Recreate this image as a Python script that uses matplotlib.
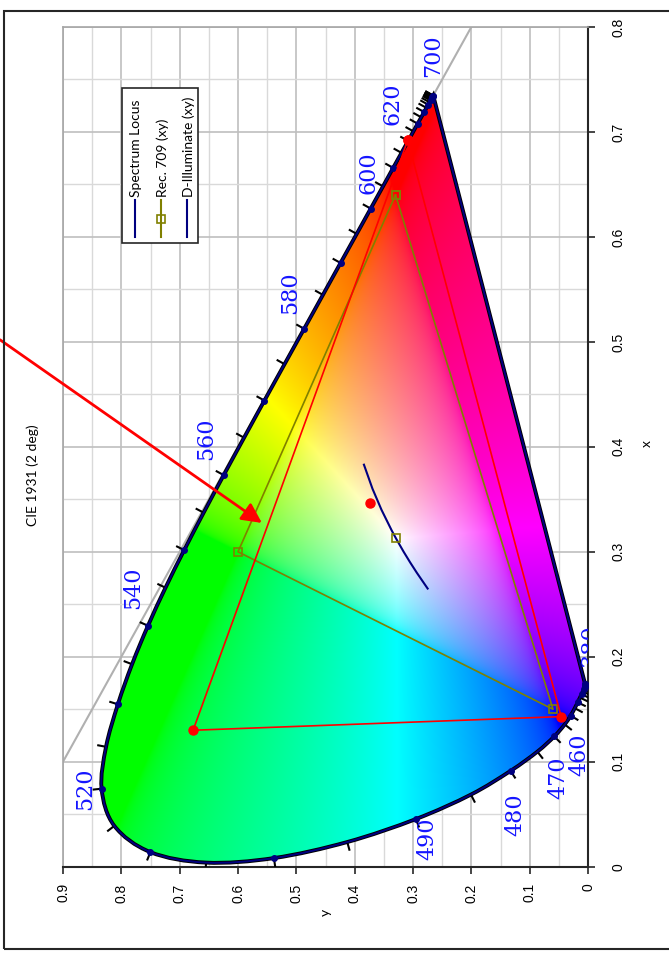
import numpy as np
import matplotlib
matplotlib.use("Agg")
import matplotlib.pyplot as plt
from matplotlib.patches import PathPatch, Rectangle
from matplotlib.path import Path
from matplotlib.lines import Line2D
from matplotlib.ticker import MultipleLocator

# --- CIE 1931 (2 deg) spectrum locus, 5 nm steps ---
wavelengths = list(range(380, 705, 5))
locus_x = [0.1741, 0.1740, 0.1738, 0.1736, 0.1733, 0.1730, 0.1726, 0.1721, 0.1714, 0.1703,
           0.1689, 0.1669, 0.1644, 0.1611, 0.1566, 0.1510, 0.1440, 0.1355, 0.1241, 0.1096,
           0.0913, 0.0687, 0.0454, 0.0235, 0.0082, 0.0039, 0.0139, 0.0389, 0.0743, 0.1142,
           0.1547, 0.1929, 0.2296, 0.2658, 0.3016, 0.3373, 0.3731, 0.4087, 0.4441, 0.4788,
           0.5125, 0.5448, 0.5752, 0.6029, 0.6270, 0.6482, 0.6658, 0.6801, 0.6915, 0.7006,
           0.7079, 0.7140, 0.7190, 0.7230, 0.7260, 0.7283, 0.7300, 0.7311, 0.7320, 0.7327,
           0.7334, 0.7340, 0.7344, 0.7346, 0.7347]
locus_y = [0.0050, 0.0050, 0.0049, 0.0049, 0.0048, 0.0048, 0.0048, 0.0048, 0.0051, 0.0058,
           0.0069, 0.0086, 0.0109, 0.0138, 0.0177, 0.0227, 0.0297, 0.0399, 0.0578, 0.0868,
           0.1327, 0.2007, 0.2950, 0.4127, 0.5384, 0.6548, 0.7502, 0.8120, 0.8338, 0.8262,
           0.8059, 0.7816, 0.7543, 0.7243, 0.6923, 0.6589, 0.6245, 0.5896, 0.5547, 0.5202,
           0.4866, 0.4544, 0.4242, 0.3965, 0.3725, 0.3514, 0.3340, 0.3197, 0.3083, 0.2993,
           0.2920, 0.2859, 0.2809, 0.2770, 0.2740, 0.2717, 0.2700, 0.2689, 0.2680, 0.2673,
           0.2666, 0.2660, 0.2656, 0.2654, 0.2653]

# wavelength labels (nm) and where they sit
label_nm = ["700", "620", "600", "580", "560", "540", "520", "490", "480", "470", "460", "380"]
label_x = [0.773, 0.727, 0.661, 0.547, 0.408, 0.266, 0.074, 0.027, 0.050, 0.085, 0.107, 0.211]
label_y = [0.266, 0.336, 0.377, 0.511, 0.655, 0.780, 0.862, 0.276, 0.125, 0.050, 0.015, -0.004]

# Rec. 709 primaries and white point
rec709_x = [0.64, 0.30, 0.15, 0.64]
rec709_y = [0.33, 0.60, 0.06, 0.33]
rec709_white_x = [0.3127]
rec709_white_y = [0.3290]

# red gamut triangle and its white point
gamut_x = [0.692, 0.130, 0.143, 0.692]
gamut_y = [0.309, 0.677, 0.046, 0.309]
gamut_white_x = [0.3465]
gamut_white_y = [0.374]

# daylight (D) illuminant locus
daylight_x = [0.265, 0.280, 0.290, 0.300, 0.3127, 0.320, 0.340, 0.360, 0.383]
daylight_y = [0.2749, 0.2934, 0.3050, 0.3160, 0.3291, 0.3362, 0.3540, 0.3694, 0.3841]

# x + y = 1 reference line
edge_x = [0.1, 0.8]
edge_y = [0.9, 0.2]

W, H = 669, 959
fig = plt.figure(figsize=(W / 100, H / 100), dpi=100)


def fpos(h, v):
    return h / W, 1 - v / H


def smooth_path(pts, close=False):
    # Catmull-Rom style bezier through the points (like a "smoothed line" series)
    pts = np.asarray(pts, dtype=float)
    n = len(pts)
    verts = [pts[0]]
    codes = [Path.MOVETO]
    for i in range(n - 1):
        p0 = pts[max(i - 1, 0)]
        p1 = pts[i]
        p2 = pts[i + 1]
        p3 = pts[min(i + 2, n - 1)]
        verts += [p1 + (p2 - p0) / 6, p2 - (p3 - p1) / 6, p2]
        codes += [Path.CURVE4] * 3
    if close:
        verts += [pts[0], pts[0]]
        codes += [Path.LINETO, Path.CLOSEPOLY]
    return Path(verts, codes)


# axes box (chart is drawn turned on its side: chromaticity y runs right-to-left,
# chromaticity x runs bottom-to-top)
ax = fig.add_axes([63 / W, 1 - 866.7 / H, (588 - 63) / W, (866.7 - 27) / H])
ax.set_xlim(0.9, 0)
ax.set_ylim(0, 0.8)

ax.xaxis.set_major_locator(MultipleLocator(0.1))
ax.yaxis.set_major_locator(MultipleLocator(0.1))
ax.xaxis.set_minor_locator(MultipleLocator(0.05))
ax.yaxis.set_minor_locator(MultipleLocator(0.05))
ax.grid(which="minor", color="#d9d9d9", lw=1.0, zorder=0)
ax.grid(which="major", color="#bfbfbf", lw=1.2, zorder=0)
ax.set_axisbelow(True)

ax.yaxis.tick_right()
ax.tick_params(which="major", direction="out", length=5, width=1.2, color="#262626",
               labelsize=10, labelfontfamily="Liberation Sans")
ax.tick_params(which="minor", length=0)
ax.tick_params(axis="x", pad=7, labelrotation=90)
ax.tick_params(axis="y", pad=12, labelrotation=90)
ax.set_xticks([0, 0.1, 0.2, 0.3, 0.4, 0.5, 0.6, 0.7, 0.8, 0.9])
ax.set_xticklabels(["0", "0.1", "0.2", "0.3", "0.4", "0.5", "0.6", "0.7", "0.8", "0.9"])
ax.set_yticks([0, 0.1, 0.2, 0.3, 0.4, 0.5, 0.6, 0.7, 0.8])
ax.set_yticklabels(["0", "0.1", "0.2", "0.3", "0.4", "0.5", "0.6", "0.7", "0.8"])
for lbl in ax.get_yticklabels():
    lbl.set_verticalalignment("center")

for side in ("left", "top"):
    ax.spines[side].set_color("#a6a6a6")
    ax.spines[side].set_linewidth(1.2)
for side in ("right", "bottom"):
    ax.spines[side].set_color("#262626")
    ax.spines[side].set_linewidth(1.5)

# x + y = 1
ax.plot(edge_y, edge_x, color="#b0b0b0", lw=1.5, zorder=1)

# --- colour fill of the chromaticity diagram ---
hy = np.linspace(0, 0.9, 700)
vx = np.linspace(0, 0.8, 700)
cy, cx = np.meshgrid(hy, vx)
cy_safe = np.maximum(cy, 1e-4)
XYZ = np.stack([cx / cy_safe, np.ones_like(cx), (1 - cx - cy) / cy_safe], axis=-1)
M = np.array([[3.2406, -1.5372, -0.4986],
              [-0.9689, 1.8758, 0.0415],
              [0.0557, -0.2040, 1.0570]])
rgb = XYZ @ M.T
rgb = np.clip(rgb, 0, None)
rgb /= np.maximum(rgb.max(axis=-1, keepdims=True), 1e-9)
rgb = np.where(rgb <= 0.0031308, 12.92 * rgb, 1.055 * np.power(rgb, 1 / 2.4) - 0.055)
rgb = np.clip(rgb, 0, 1)

locus_pts = np.column_stack([locus_y, locus_x])
outline = PathPatch(smooth_path(locus_pts, close=True), facecolor="none",
                    edgecolor="none")
ax.add_patch(outline)
img = ax.imshow(rgb, extent=(0, 0.9, 0, 0.8), origin="lower", aspect="auto",
                interpolation="bilinear", zorder=2)
img.set_clip_path(outline)
ax.set_xlim(0.9, 0)
ax.set_ylim(0, 0.8)

# locus outline: black under navy
ax.add_patch(PathPatch(smooth_path(locus_pts, close=True), facecolor="none",
                       edgecolor="black", lw=2.8, zorder=4))
ax.add_patch(PathPatch(smooth_path(locus_pts, close=True), facecolor="none",
                       edgecolor="#000080", lw=1.4, zorder=5))

# wavelength ticks every 5 nm, pointing outwards
trans = ax.transData
pts = trans.transform(locus_pts)
center = trans.transform([[0.33, 0.33]])[0]
inv = trans.inverted()
for i in range(len(pts)):
    a = pts[max(i - 1, 0)]
    b = pts[min(i + 1, len(pts) - 1)]
    t = b - a
    n = np.array([-t[1], t[0]])
    nn = np.hypot(n[0], n[1])
    if nn < 1e-3:
        continue
    n = n / nn
    if np.dot(n, pts[i] - center) < 0:
        n = -n
    seg = inv.transform([pts[i], pts[i] + 9 * n])
    ax.plot(seg[:, 0], seg[:, 1], color="black", lw=1.5, zorder=4, solid_capstyle="butt")

# dots every 10 nm
dot_y = [locus_y[i] for i, w in enumerate(wavelengths) if w % 10 == 0]
dot_x = [locus_x[i] for i, w in enumerate(wavelengths) if w % 10 == 0]
ax.plot(dot_y, dot_x, ls="none", marker="o", ms=4, color="#000080", zorder=6)

# wavelength labels
for txt, lx, ly in zip(label_nm, label_x, label_y):
    ax.text(ly, lx, txt, rotation=90, ha="center", va="center", color="#1414ff",
            fontsize=16, family="DejaVu Serif", zorder=7, clip_on=True)

# daylight locus
ax.plot(daylight_y, daylight_x, color="#000080", lw=1.5, zorder=6)

# Rec. 709
ax.plot(rec709_y, rec709_x, color="#808000", lw=1.2, marker="s", ms=6,
        mfc="none", mec="#808000", mew=1.2, zorder=7)
ax.plot(rec709_white_y, rec709_white_x, ls="none", marker="s", ms=6,
        mfc="none", mec="#808000", mew=1.2, zorder=7)

# red gamut
ax.plot(gamut_y, gamut_x, color="red", lw=1.2, marker="o", ms=6.5, zorder=8)
ax.plot(gamut_white_y, gamut_white_x, ls="none", marker="o", ms=6.5, color="red", zorder=8)

# arrow pointing into the diagram
ax.annotate("", xy=(0.559, 0.3275), xytext=(1.008, 0.502),
            arrowprops=dict(arrowstyle="-|>,head_length=0.8,head_width=0.4",
                            color="red", lw=2, mutation_scale=15, shrinkA=0, shrinkB=0),
            annotation_clip=False, zorder=9)

# --- legend (turned on its side) ---
lx0, ly0 = fpos(122, 243)
lx1, ly1 = fpos(198, 88)
fig.add_artist(Rectangle((lx0, ly0), lx1 - lx0, ly1 - ly0, transform=fig.transFigure,
                         facecolor="white", edgecolor="#262626", lw=1.2, zorder=10))
legend_items = [("Spectrum Locus", "#000080", None),
                ("Rec. 709 (xy)", "#808000", "s"),
                ("D-Illuminate (xy)", "#000080", None)]
for k, (name, col, mk) in enumerate(legend_items):
    h = 135 + k * 26
    xa, ya = fpos(h, 237)
    xb, yb = fpos(h, 200)
    fig.add_artist(Line2D([xa, xb], [ya, yb], transform=fig.transFigure, color=col,
                          lw=1.5, zorder=11))
    if mk:
        xm, ym = fpos(h, 218.5)
        fig.add_artist(Line2D([xm], [ym], transform=fig.transFigure, marker=mk, ms=6,
                              mfc="none", mec=col, mew=1.2, zorder=12))
    xt, yt = fpos(h + 1.5, 197)
    fig.text(xt, yt, name, rotation=90, ha="center", va="bottom", fontsize=10,
             family="Lato", zorder=12)

# titles and axis names
fig.text(*fpos(33, 475), "CIE 1931 (2 deg)", rotation=90, ha="center", va="center",
         fontsize=10, family="Lato")
fig.text(*fpos(647, 444), "x", rotation=90, ha="center", va="center",
         fontsize=10, family="Lato")
fig.text(*fpos(326, 912), "y", rotation=90, ha="center", va="center",
         fontsize=10, family="Lato")

# outer frame
bx0, by0 = fpos(3.5, 949)
bx1, by1 = fpos(675, 11)
fig.add_artist(Rectangle((bx0, by0), bx1 - bx0, by1 - by0, transform=fig.transFigure,
                         facecolor="none", edgecolor="#262626", lw=1.5, zorder=20,
                         clip_on=False))

fig.savefig("out.png", dpi=100)
